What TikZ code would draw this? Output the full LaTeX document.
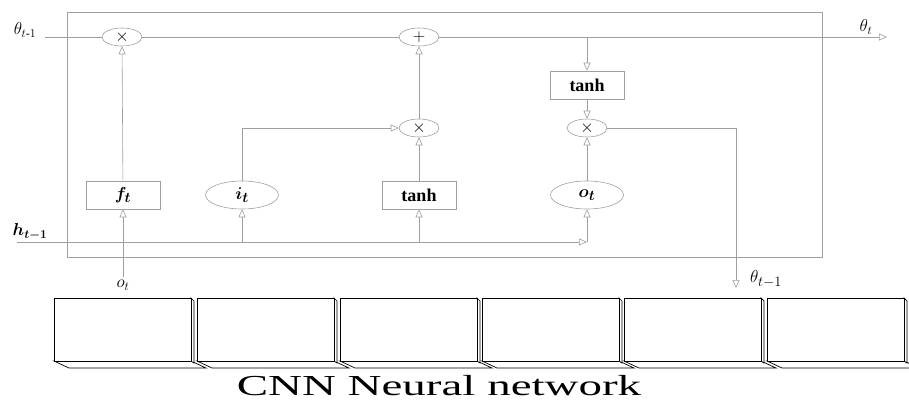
\documentclass[tikz,border=0pt]{standalone}
\usepackage{amsmath}
\usepackage{bm}
\usepackage{fontspec}
\setmainfont{Liberation Serif}
\usetikzlibrary{arrows.meta,shapes.geometric}

\begin{document}
\begin{tikzpicture}[x=1pt, y=-1pt, >={Triangle[open,length=8pt,width=7pt]},
        line/.style={draw=gray!75, line width=0.6pt},
        op/.style={ellipse, draw=gray!75, line width=0.6pt, minimum width=40pt, minimum height=18pt, inner sep=0pt, font=\fontsize{17}{17}\selectfont},
        gatebox/.style={rectangle, draw=gray!75, line width=0.6pt, minimum width=74pt, minimum height=28pt, inner sep=0pt, font=\fontsize{18}{18}\selectfont\bfseries},
        gateell/.style={ellipse, draw=gray!75, line width=0.6pt, minimum width=73pt, minimum height=28pt, inner sep=0pt, font=\fontsize{19}{19}\selectfont},
        lbl/.style={font=\fontsize{17}{17}\selectfont, inner sep=1pt}]
    \useasboundingbox (0,0) rectangle (909,402);

    % LSTM cell
    \draw[line] (67,12) rectangle (822,257);

    % operators
    \node[op] (mulf) at (122,37) {$\times$};
    \node[op] (add) at (419,37) {$+$};
    \node[op] (muli) at (419,128) {$\times$};
    \node[op] (mulo) at (587,128) {$\times$};
    \node[gatebox] (tanhc) at (587,85) {tanh};

    % gates
    \node[gatebox, font=\fontsize{19}{19}\selectfont] (ft) at (123,195) {$\bm{f_t}$};
    \node[gateell] (it) at (242,195) {$\bm{i_t}$};
    \node[gatebox] (tanhi) at (419,195) {tanh};
    \node[gateell] (ot) at (587,195) {$\bm{o_t}$};

    % free ends
    \coordinate (cin) at (45,37);
    \coordinate (cout) at (887,37);
    \coordinate (ctap) at (587,37);
    \coordinate (hin) at (17,242);
    \coordinate (hend) at (587,242);
    \coordinate (xin) at (123,277);
    \coordinate (hout) at (736,288);

    % labels
    \node[lbl] (lcin) at (25,30) {$\theta_{t\text{-}1}$};
    \node[lbl] (lcout) at (866,27) {$\theta_t$};
    \node[lbl, font=\fontsize{18}{18}\selectfont] (lhin) at (30,232) {$\bm{h_{t-1}}$};
    \node[lbl] (lxin) at (123,285) {$o_t$};
    \node[lbl, font=\fontsize{19}{19}\selectfont] (lhout) at (766,279) {$\theta_{t-1}$};

    % cell state
    \draw[line] (cin) -- (mulf);
    \draw[line] (mulf) -- (add);
    \draw[line, ->] (add) -- (cout);
    \draw[line, ->] (ctap) -- (tanhc);
    \draw[line, ->] (tanhc) -- (mulo);
    \draw[line, ->] (mulo.east) -- (mulo.east -| hout) -- (hout);

    % gate paths
    \draw[line, ->] (ft) -- (mulf);
    \draw[line, ->] (it) |- (muli);
    \draw[line, ->] (tanhi) -- (muli);
    \draw[line, ->] (muli) -- (add);
    \draw[line, ->] (ot) -- (mulo);

    % hidden input
    \draw[line, ->] (hin) -- (hend);
    \draw[line, ->] (hend) -- (ot);
    \draw[line, ->] (hin -| it) -- (it);
    \draw[line, ->] (hin -| tanhi) -- (tanhi);
    \draw[line, ->] (xin) -- (ft);

    % CNN layers
    \foreach \x in {54,197,340,482,624,767} {
        \draw[black, line width=0.7pt, fill=white] (\x,361) -- (\x+15,368) -- (\x+152,368) -- (\x+137,361) -- cycle;
        \draw[black, line width=0.7pt, fill=white] (\x+137,298) -- (\x+140,301) -- (\x+140,363) -- (\x+137,361) -- cycle;
        \draw[black, line width=0.7pt, fill=white] (\x,298) rectangle (\x+137,361);
    }
    \node[font=\fontsize{29}{29}\selectfont, inner sep=0pt] (cnn) at (439,386) {\scalebox{1.62}[1]{CNN Neural network}};
\end{tikzpicture}
\end{document}
